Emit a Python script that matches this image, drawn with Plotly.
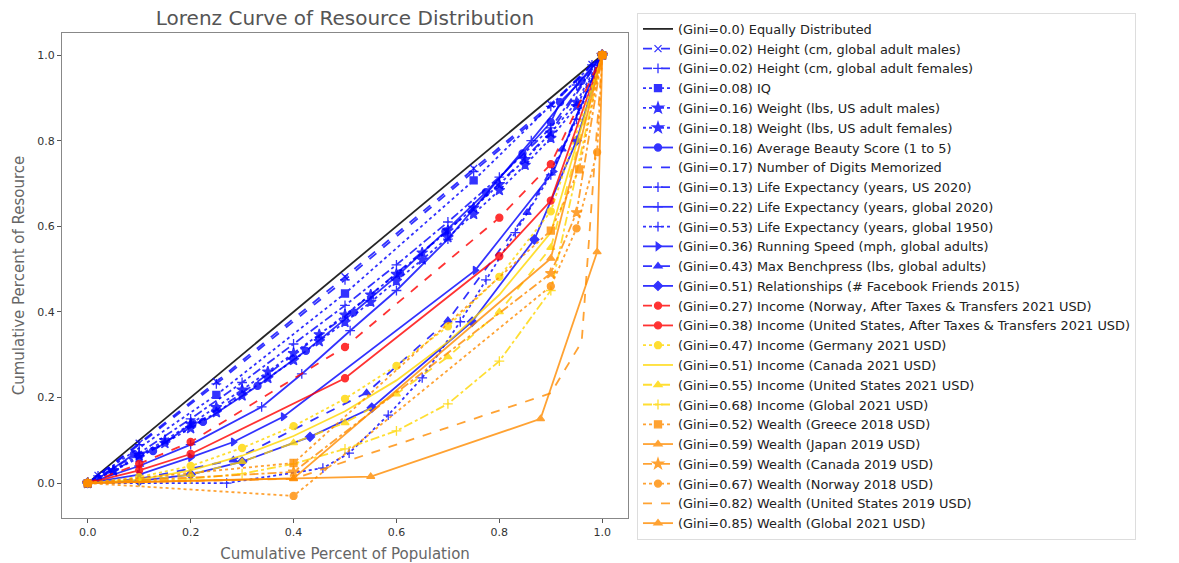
import plotly.graph_objects as go

# ---------------- data ----------------
x_equal = [0, 1]
y_equal = [0, 1]

x_height_m = [0, 0.02, 0.1, 0.25, 0.5, 0.75, 0.9, 0.98, 1]
y_height_m = [0, 0.018, 0.093, 0.237, 0.482, 0.735, 0.885, 0.978, 1]

x_height_f = [0, 0.02, 0.1, 0.25, 0.5, 0.75, 0.9, 0.98, 1]
y_height_f = [0, 0.017, 0.09, 0.232, 0.475, 0.728, 0.88, 0.977, 1]

x_iq = [0, 0.25, 0.5, 0.75, 1]
y_iq = [0, 0.206, 0.443, 0.707, 1]

x_weight = [0, 0.05, 0.1, 0.15, 0.2, 0.25, 0.3, 0.35, 0.4, 0.45, 0.5,
            0.55, 0.6, 0.65, 0.7, 0.75, 0.8, 0.85, 0.9, 0.95, 1]
y_weight_m = [0, 0.03, 0.065, 0.1, 0.138, 0.177, 0.218, 0.26, 0.303, 0.347, 0.393,
              0.44, 0.488, 0.538, 0.59, 0.643, 0.698, 0.756, 0.818, 0.89, 1]
y_weight_f = [0, 0.028, 0.06, 0.093, 0.128, 0.165, 0.204, 0.245, 0.287, 0.331, 0.376,
              0.423, 0.472, 0.522, 0.574, 0.628, 0.684, 0.743, 0.806, 0.88, 1]

x_beauty = [0, 0.02, 0.09, 0.127, 0.204, 0.224, 0.33, 0.424, 0.517, 0.607,
            0.695, 0.774, 0.845, 0.9, 0.918, 0.96, 1]
y_beauty = [0, 0.01, 0.068, 0.075, 0.14, 0.143, 0.227, 0.309, 0.399, 0.49,
            0.588, 0.68, 0.77, 0.843, 0.89, 0.94, 1]

x_digits = [0, 0.1, 0.2, 0.3, 0.4, 0.5, 0.6, 0.7, 0.8, 0.9, 1]
y_digits = [0, 0.06, 0.13, 0.21, 0.3, 0.39, 0.49, 0.59, 0.7, 0.82, 1]

x_life_us = [0, 0.1, 0.2, 0.3, 0.4, 0.5, 0.6, 0.7, 0.8, 0.9, 1]
y_life_us = [0, 0.07, 0.15, 0.235, 0.325, 0.415, 0.51, 0.61, 0.715, 0.83, 1]

x_life_2020 = [0, 0.1, 0.2, 0.338, 0.416, 0.51, 0.6, 0.7, 0.862, 0.95, 1]
y_life_2020 = [0, 0.04, 0.09, 0.178, 0.255, 0.356, 0.45, 0.57, 0.8, 0.93, 1]

x_life_1950 = [0, 0.27, 0.457, 0.508, 0.584, 0.65, 0.724, 0.774, 0.831, 0.9, 0.95, 1]
y_life_1950 = [0, 0.0, 0.035, 0.07, 0.159, 0.246, 0.377, 0.475, 0.585, 0.72, 0.85, 1]

x_running = [0, 0.1, 0.2, 0.283, 0.38, 0.753, 0.905, 1]
y_running = [0, 0.02, 0.06, 0.096, 0.155, 0.497, 0.728, 1]

x_bench = [0, 0.1, 0.283, 0.542, 0.7, 0.854, 0.922, 1]
y_bench = [0, 0.01, 0.054, 0.211, 0.38, 0.632, 0.78, 1]

x_friends = [0, 0.1, 0.2, 0.3, 0.432, 0.552, 0.747, 0.868, 0.95, 1]
y_friends = [0, 0.005, 0.02, 0.05, 0.108, 0.176, 0.377, 0.569, 0.8, 1]

x_inc_nor_at = [0, 0.1, 0.2, 0.5, 0.8, 0.9, 1]
y_inc_nor_at = [0, 0.045, 0.096, 0.318, 0.62, 0.745, 1]

x_inc_us_at = [0, 0.1, 0.2, 0.5, 0.8, 0.9, 1]
y_inc_us_at = [0, 0.03, 0.068, 0.245, 0.53, 0.66, 1]

x_deciles = [0, 0.1, 0.2, 0.3, 0.4, 0.5, 0.6, 0.7, 0.8, 0.9, 1]
y_inc_germany = [0, 0.014, 0.04, 0.082, 0.133, 0.197, 0.274, 0.366, 0.482, 0.635, 1]
y_inc_canada = [0, 0.008, 0.03, 0.064, 0.11, 0.168, 0.24, 0.33, 0.44, 0.585, 1]
y_inc_us = [0, 0.005, 0.02, 0.05, 0.094, 0.141, 0.208, 0.295, 0.40, 0.55, 1]
y_inc_global = [0, 0.003, 0.01, 0.022, 0.045, 0.08, 0.122, 0.185, 0.285, 0.45, 1]

x_w_greece = [0, 0.4, 0.9, 0.955, 1]
y_w_greece = [0, 0.047, 0.59, 0.733, 1]

x_w_japan = [0, 0.4, 0.9, 1]
y_w_japan = [0, 0.011, 0.525, 1]

x_w_canada = [0, 0.4, 0.9, 0.95, 1]
y_w_canada = [0, 0.026, 0.49, 0.632, 1]

x_w_norway = [0, 0.4, 0.9, 0.95, 0.99, 1]
y_w_norway = [0, -0.03, 0.46, 0.595, 0.773, 1]

x_w_us = [0, 0.4, 0.9, 0.96, 1]
y_w_us = [0, 0.01, 0.21, 0.33, 1]

x_w_global = [0, 0.4, 0.55, 0.88, 0.99, 1]
y_w_global = [0, 0.01, 0.015, 0.15, 0.54, 1]

labels = [
    "(Gini=0.0) Equally Distributed",
    "(Gini=0.02) Height (cm, global adult males)",
    "(Gini=0.02) Height (cm, global adult females)",
    "(Gini=0.08) IQ",
    "(Gini=0.16) Weight (lbs, US adult males)",
    "(Gini=0.18) Weight (lbs, US adult females)",
    "(Gini=0.16) Average Beauty Score (1 to 5)",
    "(Gini=0.17) Number of Digits Memorized",
    "(Gini=0.13) Life Expectancy (years, US 2020)",
    "(Gini=0.22) Life Expectancy (years, global 2020)",
    "(Gini=0.53) Life Expectancy (years, global 1950)",
    "(Gini=0.36) Running Speed (mph, global adults)",
    "(Gini=0.43) Max Benchpress (lbs, global adults)",
    "(Gini=0.51) Relationships (# Facebook Friends 2015)",
    "(Gini=0.27) Income (Norway, After Taxes & Transfers 2021 USD)",
    "(Gini=0.38) Income (United States, After Taxes & Transfers 2021 USD)",
    "(Gini=0.47) Income (Germany 2021 USD)",
    "(Gini=0.51) Income (Canada 2021 USD)",
    "(Gini=0.55) Income (United States 2021 USD)",
    "(Gini=0.68) Income (Global 2021 USD)",
    "(Gini=0.52) Wealth (Greece 2018 USD)",
    "(Gini=0.59) Wealth (Japan 2019 USD)",
    "(Gini=0.59) Wealth (Canada 2019 USD)",
    "(Gini=0.67) Wealth (Norway 2018 USD)",
    "(Gini=0.82) Wealth (United States 2019 USD)",
    "(Gini=0.85) Wealth (Global 2021 USD)",
]

data = [
    (x_equal, y_equal), (x_height_m, y_height_m), (x_height_f, y_height_f),
    (x_iq, y_iq), (x_weight, y_weight_m), (x_weight, y_weight_f),
    (x_beauty, y_beauty), (x_digits, y_digits), (x_life_us, y_life_us),
    (x_life_2020, y_life_2020), (x_life_1950, y_life_1950),
    (x_running, y_running), (x_bench, y_bench), (x_friends, y_friends),
    (x_inc_nor_at, y_inc_nor_at), (x_inc_us_at, y_inc_us_at),
    (x_deciles, y_inc_germany), (x_deciles, y_inc_canada),
    (x_deciles, y_inc_us), (x_deciles, y_inc_global),
    (x_w_greece, y_w_greece), (x_w_japan, y_w_japan), (x_w_canada, y_w_canada),
    (x_w_norway, y_w_norway), (x_w_us, y_w_us), (x_w_global, y_w_global),
]

# ---------------- styles ----------------
BLACK, BLUE, RED, GOLD, ORANGE = "#000000", "#0000FF", "#FF0000", "#FFD700", "#FF8C00"
styles = [
    (BLACK, "solid", None),
    (BLUE, "dash", "x-thin-open"),
    (BLUE, "dash", "cross-thin-open"),
    (BLUE, "dot", "square"),
    (BLUE, "dot", "star"),
    (BLUE, "dot", "star"),
    (BLUE, "solid", "circle"),
    (BLUE, "dash", None),
    (BLUE, "dashdot", "cross-thin-open"),
    (BLUE, "solid", "cross-thin-open"),
    (BLUE, "dot", "cross-thin-open"),
    (BLUE, "solid", "triangle-right"),
    (BLUE, "dash", "triangle-up"),
    (BLUE, "solid", "diamond"),
    (RED, "dash", "circle"),
    (RED, "solid", "circle"),
    (GOLD, "dot", "circle"),
    (GOLD, "solid", None),
    (GOLD, "dash", "triangle-up"),
    (GOLD, "dashdot", "cross-thin-open"),
    (ORANGE, "dot", "square"),
    (ORANGE, "solid", "triangle-up"),
    (ORANGE, "dashdot", "star"),
    (ORANGE, "dot", "circle"),
    (ORANGE, "dash", None),
    (ORANGE, "solid", "triangle-up"),
]

fig = go.Figure()
for (xs, ys), name, (col, dash, sym) in zip(data, labels, styles):
    if sym is None:
        mode = "lines"
        marker = None
    else:
        mode = "lines+markers"
        size = 7
        if sym == "star":
            size = 8
        marker = dict(symbol=sym, size=size, color=col, line=dict(color=col, width=1.3))
    fig.add_trace(go.Scatter(
        x=xs, y=ys, name=name, mode=mode, marker=marker,
        line=dict(color=col, width=1.8, dash=dash),
        opacity=0.8 if col != BLACK else 0.85,
    ))

axis_common = dict(
    showgrid=False, zeroline=False, showline=True, linecolor="#888888", linewidth=1,
    mirror=True, ticks="outside", ticklen=4, tickcolor="#555555", automargin=False,
    tickfont=dict(family="DejaVu Sans", size=11, color="#333333"),
    title_font=dict(family="DejaVu Sans", size=15, color="#666666"),
)

fig.update_layout(
    width=1179, height=563,
    margin=dict(l=62, r=551, t=33, b=45, autoexpand=False),
    paper_bgcolor="white", plot_bgcolor="white",
    title=dict(text="Lorenz Curve of Resource Distribution", x=(62 + 628) / 2 / 1179,
               xanchor="center", xref="container", yref="container",
               y=1 - 18 / 563, yanchor="middle",
               font=dict(family="DejaVu Sans", size=20, color="#555555")),
    xaxis=dict(range=[-0.05, 1.05], tickvals=[0, 0.2, 0.4, 0.6, 0.8, 1.0],
               tickformat=".1f", title=dict(text="Cumulative Percent of Population", standoff=10),
               **axis_common),
    yaxis=dict(range=[-0.0815, 1.0515], tickvals=[0, 0.2, 0.4, 0.6, 0.8, 1.0],
               tickformat=".1f", title=dict(text="Cumulative Percent of Resource", standoff=9),
               **axis_common),
    legend=dict(xref="container", yref="container",
                x=637 / 1179, y=1 - 13 / 563, xanchor="left", yanchor="top",
                font=dict(family="DejaVu Sans", size=12.9, color="#222222"),
                bordercolor="#dddddd", borderwidth=1, bgcolor="white",
                tracegroupgap=0, itemwidth=30, maxheight=550),
    showlegend=True,
)

fig.write_html("out.html", config={"displayModeBar": False},
               post_script="document.body.style.margin='0';")
